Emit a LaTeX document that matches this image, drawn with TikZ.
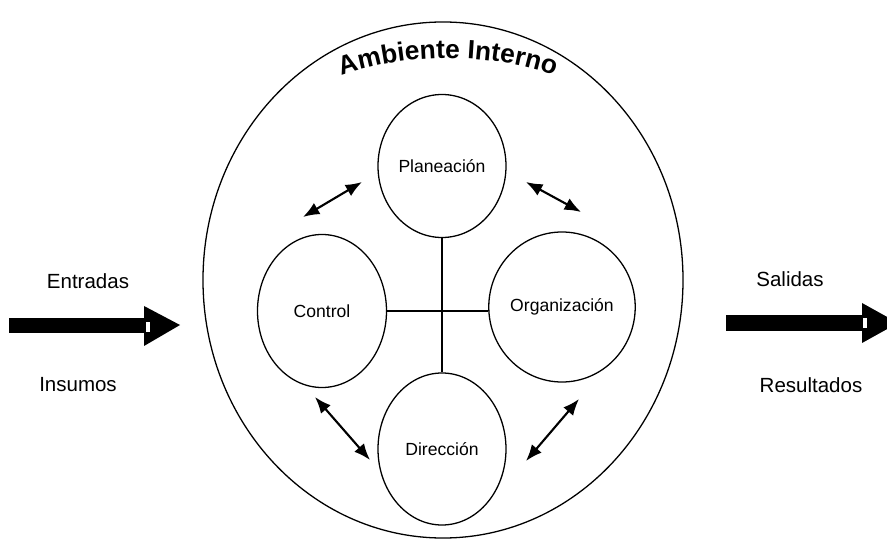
\documentclass[tikz,border=0pt]{standalone}
\usepackage{fontspec}
\setmainfont{Liberation Sans}
\usepackage{tikz}
\usetikzlibrary{shapes,arrows.meta,decorations.text,positioning}
\newcommand\titulofont{\bfseries\fontsize{22.5}{25}\selectfont}
\tikzstyle{ambiente} = [draw, ellipse, line width=1.1pt, inner sep=0pt, minimum width=14.4cm, minimum height=15.48cm]
\tikzstyle{etapa} = [draw, ellipse, line width=1.1pt, inner sep=0pt, font=\fontsize{15}{18}\selectfont]
\tikzstyle{rotulo} = [font=\fontsize{17.5}{20}\selectfont]
\tikzstyle{flecha} = [draw, line width=1.8pt, {Latex[length=14pt,width=11pt]}-{Latex[length=14pt,width=11pt]}]
\tikzstyle{cruz} = [draw, line width=1pt]

\begin{document}
\begin{tikzpicture}[x=0.03cm, y=-0.03cm]
	\useasboundingbox (0,0) rectangle (887,541);
	
	\node [ambiente] (amb) at (443,280) {};
	\path [decorate, decoration={text along path, text align=center, text={|\titulofont|Ambiente Interno}}]
		(330,80) .. controls (402,51) and (494,51) .. (566,80);
	
	\node [etapa, minimum width=3.84cm, minimum height=4.29cm] (plan) at (442,166) {Planeación};
	\node [etapa, minimum width=3.87cm, minimum height=4.59cm] (ctrl) at (322,311) {Control};
	\node [etapa, minimum width=3.93cm, minimum height=4.5cm] (org) at (562,307) {Organización};
	\node [etapa, minimum width=3.84cm, minimum height=4.56cm] (dir) at (442,449) {Dirección};
	
	\path [cruz] (plan.south) to (dir.north);
	\path [cruz] (ctrl.east) to (ctrl.east -| org.west);
	
	\coordinate (f1a) at (303,217);
	\coordinate (f1b) at (362,182);
	\coordinate (f2a) at (526,182);
	\coordinate (f2b) at (581,212);
	\coordinate (f3a) at (315,397);
	\coordinate (f3b) at (370,460);
	\coordinate (f4a) at (526,461);
	\coordinate (f4b) at (579,399);
	\path [flecha] (f1a) to (f1b);
	\path [flecha] (f2a) to (f2b);
	\path [flecha] (f3a) to (f3b);
	\path [flecha] (f4a) to (f4b);
	
	\node [rotulo] (entradas) at (88,281) {Entradas};
	\node [rotulo] (insumos) at (78,385) {Insumos};
	\node [rotulo] (salidas) at (790,279) {Salidas};
	\node [rotulo] (resultados) at (811,385) {Resultados};
	
	% flechas gruesas
	\fill (9,318) rectangle (146,333);
	\fill (144,306) -- (180,325) -- (144,346) -- cycle;
	\fill [white] (146,322) rectangle (150,332);
	\fill (726,315) rectangle (864,331);
	\fill (862,303) -- (898,323) -- (862,343) -- cycle;
	\fill [white] (863,318) rectangle (867,328);
\end{tikzpicture}
\end{document}
